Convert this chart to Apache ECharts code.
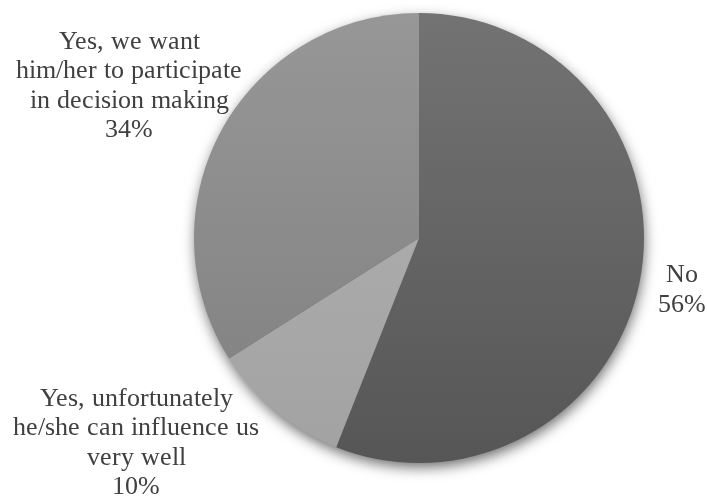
<!DOCTYPE html>
<html>
<head>
<meta charset="utf-8">
<script src="https://cdn.jsdelivr.net/npm/echarts@6/dist/echarts.min.js"></script>
<style>
  @font-face {
    font-family: 'LabelSerif';
    src: local('Liberation Serif'), local('LiberationSerif'), local('Liberation Serif Regular'), local('LiberationSerif-Regular');
  }
  html, body { margin: 0; padding: 0; background: #fff; }
  #pie { position: absolute; left: 0; top: 0; width: 707px; height: 501px; }
  .warm { position: absolute; left: 5px; top: 5px; font: 26px 'LabelSerif', 'Liberation Serif', serif; color: rgba(255,255,255,0.01); z-index: 0; }
</style>
</head>
<body>
<div class="warm">Yes, we want 56%</div>
<div id="pie"></div>
<script>
// Survey answers and their shares (percent)
const categories = [
  'No',
  'Yes, unfortunately\nhe/she can influence us\nvery well',
  'Yes, we want\nhim/her to participate\nin decision making'
];
const values = [56, 10, 34];

// Shading per slice: [top colour, bottom colour]
const sliceShades = [
  ['#737373', '#565656'],
  ['#b3b3b3', '#a2a2a2'],
  ['#979797', '#7f7f7f']
];

// Where each label block sits (centre of the text block)
const labelSpots = [
  { x: 682, y: 290 },
  { x: 136, y: 443 },
  { x: 129, y: 86 }
];

const cx = 419, cy = 238, r = 225;
const labelFont = "26px LabelSerif, 'Liberation Serif', 'Times New Roman', serif";

function shade(i) {
  return {
    type: 'linear', global: true,
    x: 0, y: cy - r, x2: 0, y2: cy + r,
    colorStops: [
      { offset: 0, color: sliceShades[i][0] },
      { offset: 1, color: sliceShades[i][1] }
    ]
  };
}

const total = values.reduce((a, b) => a + b, 0);

// Category name followed by its share, one text block per slice
const labelTexts = categories.map((name, i) =>
  name + '\n' + Math.round(values[i] / total * 100) + '%'
);

function buildOption() {
  return {
    animation: false,
    graphic: labelTexts.map((text, i) => ({
      type: 'text',
      x: labelSpots[i].x,
      y: labelSpots[i].y,
      z: 10,
      silent: true,
      style: {
        text: text,
        font: labelFont,
        fill: '#404040',
        align: 'center',
        verticalAlign: 'middle',
        lineHeight: 29.5
      }
    })),
    series: [
      {
        // soft drop shadow behind the whole disc
        type: 'pie',
        silent: true,
        center: [cx, cy],
        radius: [0, r - 1],
        label: { show: false },
        labelLine: { show: false },
        itemStyle: {
          color: '#666666',
          shadowBlur: 14,
          shadowColor: 'rgba(0,0,0,0.6)',
          shadowOffsetX: 1,
          shadowOffsetY: 5
        },
        data: [{ value: 1, name: 'disc' }]
      },
      {
        type: 'pie',
        center: [cx, cy],
        radius: [0, r],
        startAngle: 90,
        label: { show: false },
        labelLine: { show: false },
        data: categories.map((name, i) => ({
          name: name,
          value: values[i],
          itemStyle: { color: shade(i) }
        }))
      }
    ]
  };
}

const pieChart = echarts.init(document.getElementById('pie'));
pieChart.setOption(buildOption());

// Redraw once the serif face is ready so the canvas text picks it up
function redraw() {
  pieChart.clear();
  pieChart.setOption(buildOption());
}
if (document.fonts && document.fonts.load) {
  document.fonts.load("26px LabelSerif").then(redraw, redraw);
  document.fonts.ready.then(redraw);
}
</script>
</body>
</html>
